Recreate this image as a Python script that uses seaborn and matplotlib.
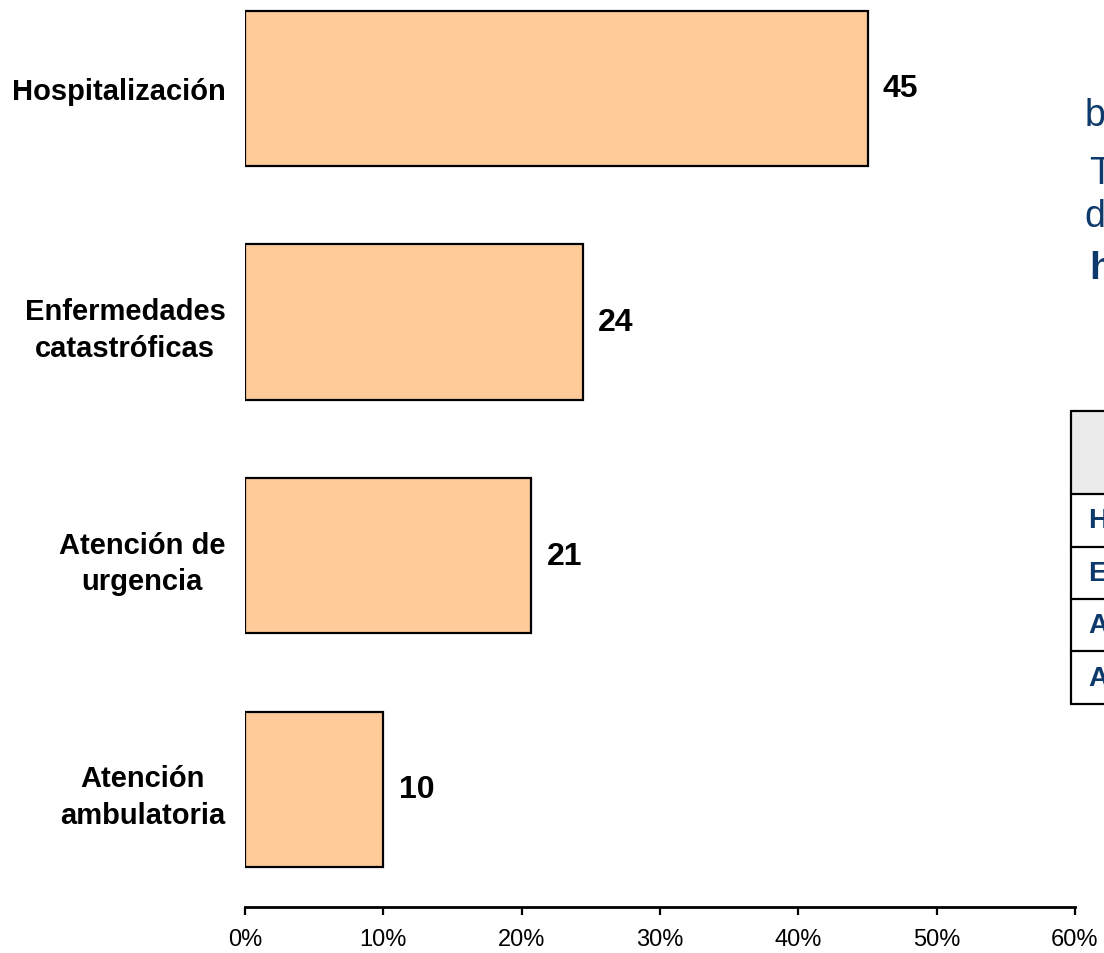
import matplotlib
matplotlib.use("Agg")
import matplotlib.pyplot as plt
import seaborn as sns
import pandas as pd
from matplotlib.ticker import FixedLocator, PercentFormatter
from matplotlib.patches import Rectangle
from matplotlib.lines import Line2D

# Share of spending by type of care (%)
categories = [
    "Hospitalización",
    "Enfermedades\ncatastróficas",
    "Atención de\nurgencia",
    "Atención\nambulatoria",
]
shares = [45.0, 24.4, 20.7, 10.0]
x_ticks = [0, 10, 20, 30, 40, 50, 60]

# Side panel: start of the text column and of the summary table rows
side_letters = ["b", "T", "d", "h"]
table_initials = ["H", "E", "A", "A"]

sns.set_theme(style="white")
plt.rcParams["font.family"] = ["Liberation Sans", "DejaVu Sans"]

W, H = 1104, 954
fig = plt.figure(figsize=(W / 100, H / 100), dpi=100)
fig.patch.set_facecolor("white")


def fx(px):
    return px / W


def fy(py):
    return 1 - py / H


ax = fig.add_axes([fx(245), fy(908), fx(830), 908 / H])

df = pd.DataFrame({"categoria": categories, "porcentaje": shares})
sns.barplot(
    data=df, x="porcentaje", y="categoria", orient="h",
    color="#FFCC99", saturation=1, width=0.664,
    edgecolor="black", linewidth=1.6, ax=ax,
)

ax.set_xlim(0, 60)
ax.set_ylim(3.505, -0.383)
ax.xaxis.set_major_locator(FixedLocator(x_ticks))
ax.xaxis.set_major_formatter(PercentFormatter(decimals=0))
ax.set_xlabel("")
ax.set_ylabel("")

for side in ("left", "top", "right"):
    ax.spines[side].set_visible(False)
ax.spines["bottom"].set_color("black")
ax.spines["bottom"].set_linewidth(2)

ax.tick_params(axis="x", bottom=True, length=6, width=1.6, color="black",
               direction="out", pad=9, labelsize=17, labelcolor="black")
ax.tick_params(axis="y", left=False, length=0, pad=14, labelsize=21,
               labelcolor="black")
for lbl in ax.get_yticklabels():
    lbl.set_fontweight("bold")
    lbl.set_multialignment("center")
    lbl.set_linespacing(1.4)

ax.bar_label(ax.containers[0], labels=[f"{v:.0f}" for v in shares],
             padding=11, fontsize=23, fontweight="bold", color="black")

# Side panel text column
blue = "#0E3A6B"
fig.text(fx(1085), fy(126), side_letters[0], color=blue, fontsize=27,
         va="baseline", ha="left")
fig.text(fx(1089), fy(184), side_letters[1], color=blue, fontsize=27,
         va="baseline", ha="left")
fig.text(fx(1084), fy(227), side_letters[2], color=blue, fontsize=27,
         va="baseline", ha="left")
fig.text(fx(1089), fy(279), side_letters[3], color=blue, fontsize=28,
         fontweight="bold", va="baseline", ha="left")

# Side panel table
fig.patches.append(Rectangle((fx(1071), fy(495)), fx(W - 1071) + 0.01,
                             (495 - 412) / H, transform=fig.transFigure,
                             facecolor="#EBEBEB", edgecolor="none", zorder=1))
row_edges = [412, 495, 548, 600, 652, 705]
for y in row_edges:
    fig.lines.append(Line2D([fx(1071), 1.01], [fy(y), fy(y)],
                            transform=fig.transFigure, color="black",
                            linewidth=1.6, zorder=2))
fig.lines.append(Line2D([fx(1071), fx(1071)], [fy(412), fy(705)],
                        transform=fig.transFigure, color="black",
                        linewidth=1.6, zorder=2))
for i, initial in enumerate(table_initials):
    ymid = (row_edges[i + 1] + row_edges[i + 2]) / 2
    fig.text(fx(1088), fy(ymid), initial, color=blue, fontsize=20,
             fontweight="bold", va="center", ha="left")

fig.savefig("out.png", dpi=100, facecolor="white")
